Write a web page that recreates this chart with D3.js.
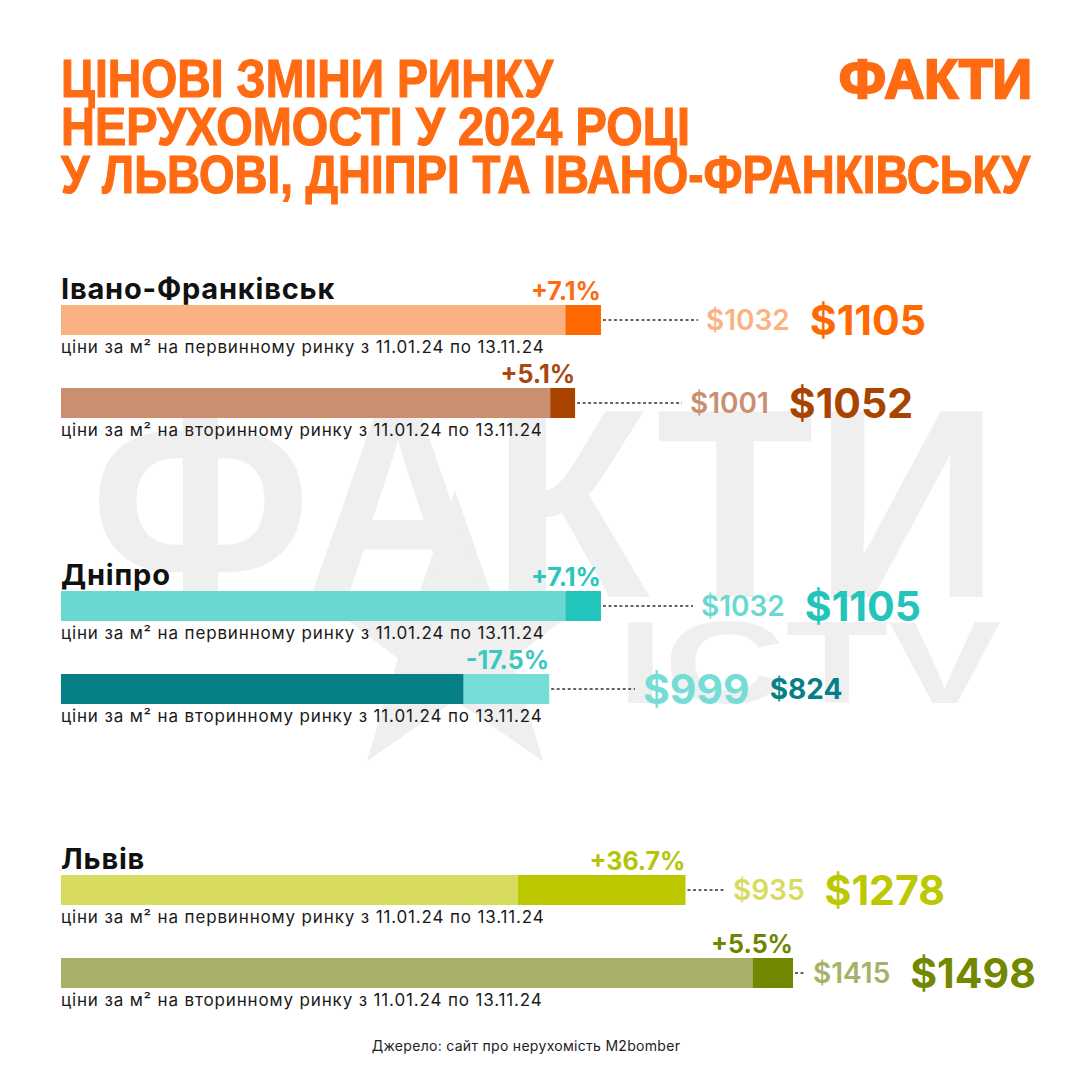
<!DOCTYPE html>
<html lang="uk">
  <head>
    <meta charset="UTF-8" />
    <script src="https://d3js.org/d3.v7.min.js"></script>
    <title>Цінові зміни ринку нерухомості</title>
    <style>
      body { margin: 0; background: #fff; }
    </style>
  </head>
  <body>
    <script>
      // data
      const titleLines = [
        "ЦІНОВІ ЗМІНИ РИНКУ",
        "НЕРУХОМОСТІ У 2024 РОЦІ",
        "У ЛЬВОВІ, ДНІПРІ ТА ІВАНО-ФРАНКІВСЬКУ"
      ];
      const cities = ["Івано-Франківськ", "Дніпро", "Львів"];
      const markets = ["первинному", "вторинному"];
      const oldPrices = [1032, 1001, 1032, 999, 935, 1415];
      const newPrices = [1105, 1052, 1105, 824, 1278, 1498];
      const changes = ["+7.1%", "+5.1%", "+7.1%", "-17.5%", "+36.7%", "+5.5%"];
      const source = "Джерело: сайт про нерухомість M2bomber";

      // palette
      const lightColors = ["#fbb282", "#c98f6e", "#69d8d0", "#76ddd6", "#d7dc5e", "#a8b167"];
      const darkColors = ["#ff6a00", "#a84300", "#22c4bb", "#067f86", "#bcc800", "#728800"];
      const pctColors = ["#ff6a13", "#a84710", "#2cc4bc", "#3cc8be", "#b4c40a", "#6e8500"];
      const orange = "#ff6b12";

      // layout
      const groupTop = [305, 591, 875];
      const oldLabelX = [706, 690, 701, 643, 733, 813];
      const barH = 30, rowGap = 83;

      const W = 1080, H = 1080;
      const svg = d3.select("body").append("svg")
        .attr("width", W).attr("height", H)
        .style("font-family", "Inter, 'Noto Sans', sans-serif");

      const x = d3.scaleLinear().domain([0, 1500]).range([61, 794]);

      // watermark
      const wm = svg.append("g").attr("fill", "#efefef");
      const star = d3.range(10).map(i => {
        let r = i % 2 ? 60 : 150, a = Math.PI * i / 5;
        return [455 + r * Math.sin(a), 640 - r * Math.cos(a)];
      });
      wm.append("polygon").attr("points", star.join(" "));
      wm.append("text")
        .attr("x", 90).attr("y", 597)
        .attr("font-family", "'Liberation Sans Narrow', sans-serif")
        .attr("font-weight", 700).attr("font-size", 270)
        .attr("textLength", 910).attr("lengthAdjust", "spacingAndGlyphs")
        .text("ФАКТИ");
      wm.append("text")
        .attr("x", 617).attr("y", 703)
        .attr("font-family", "'Liberation Sans', sans-serif")
        .attr("font-weight", 700).attr("font-size", 117)
        .attr("textLength", 384).attr("lengthAdjust", "spacingAndGlyphs")
        .text("ICTV");

      // title
      const titleW = [492, 629, 969];
      svg.append("g").selectAll("text").data(titleLines).join("text")
        .attr("x", 61).attr("y", (d, i) => 97 + i * 48)
        .attr("fill", orange)
        .attr("font-family", "'Liberation Sans Narrow', sans-serif")
        .attr("font-weight", 700).attr("font-size", 53)
        .attr("textLength", (d, i) => titleW[i])
        .attr("lengthAdjust", "spacingAndGlyphs")
        .style("stroke", orange).style("stroke-width", 1.2)
        .text(d => d);

      // logo
      svg.append("text")
        .attr("x", 839).attr("y", 98)
        .attr("fill", orange)
        .attr("font-family", "'Liberation Sans Narrow', sans-serif")
        .attr("font-weight", 700).attr("font-size", 56)
        .attr("textLength", 193).attr("lengthAdjust", "spacingAndGlyphs")
        .style("stroke", orange).style("stroke-width", 2.5)
        .text("ФАКТИ");

      // city headings
      svg.append("g").selectAll("text").data(cities).join("text")
        .attr("x", 61).attr("y", (d, i) => groupTop[i] - 6)
        .attr("font-size", 29).attr("font-weight", 700)
        .attr("letter-spacing", 0.8)
        .attr("fill", "#111")
        .text(d => d);

      // rows
      const rows = oldPrices.map((o, i) => ({
        i, o, n: newPrices[i], change: changes[i],
        y: groupTop[Math.floor(i / 2)] + (i % 2) * rowGap,
        market: markets[i % 2]
      }));

      const row = svg.append("g").selectAll("g").data(rows).join("g");

      // base segment: 0 -> smaller value, extension: smaller -> larger value
      row.append("rect")
        .attr("x", x(0)).attr("y", d => d.y)
        .attr("width", d => x(Math.min(d.o, d.n)) - x(0))
        .attr("height", barH)
        .attr("fill", d => d.n >= d.o ? lightColors[d.i] : darkColors[d.i]);
      row.append("rect")
        .attr("x", d => x(Math.min(d.o, d.n))).attr("y", d => d.y)
        .attr("width", d => x(Math.max(d.o, d.n)) - x(Math.min(d.o, d.n)))
        .attr("height", barH)
        .attr("fill", d => d.n >= d.o ? darkColors[d.i] : lightColors[d.i]);

      row.append("text")
        .attr("x", d => x(Math.max(d.o, d.n))).attr("y", d => d.y - 5)
        .attr("text-anchor", "end")
        .attr("font-size", 25).attr("font-weight", 700)
        .attr("fill", d => pctColors[d.i])
        .text(d => d.change);

      row.append("text")
        .attr("x", 61).attr("y", d => d.y + barH + 18)
        .attr("font-size", 17).attr("letter-spacing", 0.85)
        .attr("fill", "#1a1a1a")
        .text(d => "ціни за м² на " + d.market + " ринку з 11.01.24 по 13.11.24");

      row.append("line")
        .attr("x1", d => x(Math.max(d.o, d.n)) + 2)
        .attr("x2", d => oldLabelX[d.i] - 8)
        .attr("y1", d => d.y + barH / 2).attr("y2", d => d.y + barH / 2)
        .attr("stroke", "#333").attr("stroke-width", 1.5)
        .attr("stroke-dasharray", "3,2.5");

      const big = 41, small = 28;
      const oldLbl = row.append("text")
        .attr("x", d => oldLabelX[d.i])
        .attr("y", d => d.y + barH / 2)
        .attr("dy", "0.36em")
        .attr("font-size", d => d.o > d.n ? big : small)
        .attr("font-weight", d => d.o > d.n ? 700 : 600)
        .attr("fill", d => lightColors[d.i])
        .text(d => "$" + d.o);

      row.append("text")
        .attr("x", function (d) {
          return oldLabelX[d.i] + oldLbl.nodes()[d.i].getComputedTextLength() + 20;
        })
        .attr("y", d => d.y + barH / 2)
        .attr("dy", "0.36em")
        .attr("font-size", d => d.n > d.o ? big : small)
        .attr("font-weight", 700)
        .attr("fill", d => darkColors[d.i])
        .text(d => "$" + d.n);

      // source
      svg.append("text")
        .attr("x", W / 2 - 14).attr("y", 1051)
        .attr("text-anchor", "middle")
        .attr("font-size", 14).attr("letter-spacing", 0.3)
        .attr("fill", "#222")
        .text(source);
    </script>
  </body>
</html>
